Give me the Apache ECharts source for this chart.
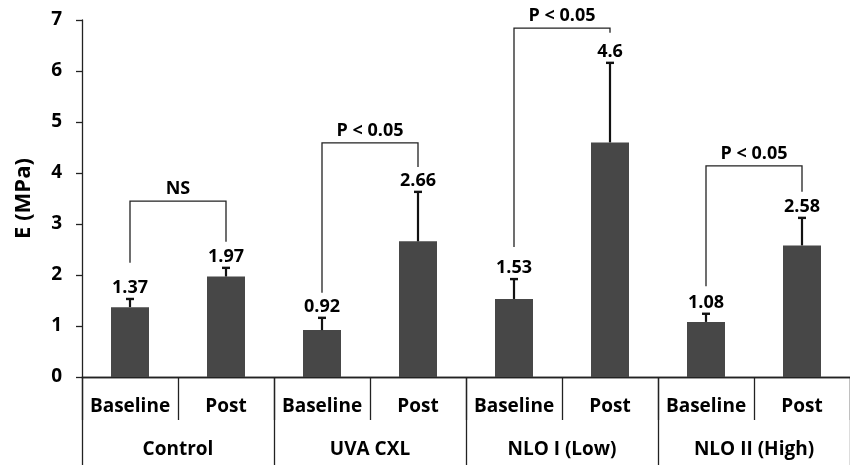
<!DOCTYPE html>
<html>
<head>
<meta charset="utf-8">
<script src="https://cdn.jsdelivr.net/npm/echarts@6/dist/echarts.min.js"></script>
<style>
html,body{margin:0;padding:0;background:#fff;}
#chart{width:850px;height:465px;}
</style>
</head>
<body>
<div id="chart"></div>
<script>
// ---- data ----
const subCategories = ['Baseline','Post','Baseline','Post','Baseline','Post','Baseline','Post'];
const groups = ['Control','UVA CXL','NLO I (Low)','NLO II (High)'];
const means = [1.37, 1.97, 0.92, 2.66, 1.53, 4.6, 1.08, 2.58];
const errorTops = [1.53, 2.14, 1.16, 3.63, 1.92, 6.16, 1.24, 3.12];
const valueLabels = ['1.37','1.97','0.92','2.66','1.53','4.6','1.08','2.58'];
const bracketLabels = ['NS','P < 0.05','P < 0.05','P < 0.05'];
const bracketTop = [3.45, 4.59, 6.84, 4.14];
const bracketLeftEnd = [2.24, 1.65, 2.55, 1.78];
const bracketRightEnd = [2.65, 4.12, 6.75, 3.63];
const yTicks = [0,1,2,3,4,5,6,7];

const FONT = '"Open Sans"';
const chart = echarts.init(document.getElementById('chart'), null, {renderer:'canvas'});

const errData = means.map((m,i)=>[i, m, errorTops[i], valueLabels[i]]);
const brData = groups.map((g,i)=>[i*2, i*2+1, bracketTop[i], bracketLeftEnd[i], bracketRightEnd[i], bracketLabels[i]]);

const gridBox = {left:82, right:-12, top:20, bottom:88};

chart.setOption({
  animation:false,
  grid:[Object.assign({}, gridBox), Object.assign({}, gridBox)],
  xAxis:[
    {
      type:'category', gridIndex:0, data:subCategories, position:'bottom',
      axisLine:{show:true, lineStyle:{color:'#222', width:1.3}},
      axisTick:{show:true, interval:0, length:43, lineStyle:{color:'#222', width:1.3}},
      axisLabel:{interval:0, margin:20, color:'#000', fontFamily:FONT, fontWeight:'bold', fontSize:19}
    },
    {
      type:'category', gridIndex:1, data:groups, position:'bottom',
      axisLine:{show:true, lineStyle:{color:'#222', width:1.3}},
      axisTick:{show:true, interval:0, length:88, lineStyle:{color:'#222', width:1.3}},
      axisLabel:{interval:0, margin:63, color:'#000', fontFamily:FONT, fontWeight:'bold', fontSize:19}
    }
  ],
  yAxis:[
    {
      type:'value', gridIndex:0, min:yTicks[0], max:yTicks[yTicks.length-1], interval:1,
      name:'E (MPa)', nameLocation:'middle', nameGap:47, nameRotate:90,
      nameTextStyle:{color:'#000', fontFamily:FONT, fontWeight:'bold', fontSize:22},
      axisLine:{show:true, lineStyle:{color:'#222', width:1.3}},
      axisTick:{show:true, length:6, lineStyle:{color:'#222', width:1.3}},
      splitLine:{show:false},
      axisLabel:{margin:20, color:'#000', fontFamily:FONT, fontWeight:'bold', fontSize:19}
    },
    {type:'value', gridIndex:1, min:0, max:1, show:false}
  ],
  series:[
    {
      type:'bar', xAxisIndex:0, yAxisIndex:0, data:means, barWidth:38,
      itemStyle:{color:'#474747'}
    },
    {
      type:'custom', xAxisIndex:0, yAxisIndex:0, data:errData, z:5,
      renderItem:function(params, api){
        const x = api.value(0);
        const p0 = api.coord([x, api.value(1)]);
        const p1 = api.coord([x, api.value(2)]);
        const cap = 4;
        return {type:'group', children:[
          {type:'line', shape:{x1:p0[0], y1:p0[1], x2:p1[0], y2:p1[1]}, style:{stroke:'#111', lineWidth:2.2}},
          {type:'line', shape:{x1:p1[0]-cap, y1:p1[1], x2:p1[0]+cap, y2:p1[1]}, style:{stroke:'#111', lineWidth:2.4}},
          {type:'text', x:p1[0], y:p1[1]-2, style:{text:errData[params.dataIndex][3], fill:'#000', font:'bold 18px '+FONT, align:'center', verticalAlign:'bottom'}}
        ]};
      }
    },
    {
      type:'custom', xAxisIndex:0, yAxisIndex:0, data:brData, z:4,
      renderItem:function(params, api){
        const d = brData[params.dataIndex];
        const lt = api.coord([d[0], d[2]]);
        const lb = api.coord([d[0], d[3]]);
        const rt = api.coord([d[1], d[2]]);
        const rb = api.coord([d[1], d[4]]);
        return {type:'group', children:[
          {type:'polyline', shape:{points:[lb, lt, rt, rb]}, style:{stroke:'#222', lineWidth:1.3, fill:null}},
          {type:'text', x:(lt[0]+rt[0])/2, y:lt[1]-3, style:{text:d[5], fill:'#000', font:'bold 18px '+FONT, align:'center', verticalAlign:'bottom'}}
        ]};
      }
    }
  ]
});
</script>
</body>
</html>
